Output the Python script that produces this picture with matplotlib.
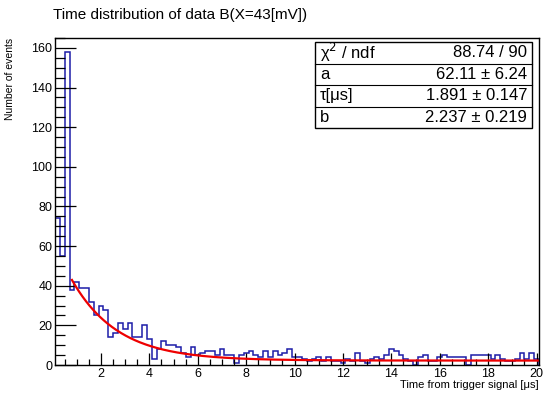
import numpy as np
import matplotlib
matplotlib.use("Agg")
import matplotlib.pyplot as plt
from matplotlib.patches import Rectangle
from matplotlib.ticker import MultipleLocator

plt.rcParams['font.family'] = ['Liberation Sans', 'DejaVu Sans']

# histogram: 100 bins of 0.2 us from 0.1 to 20.1 us
bin_lo = 0.1
bin_hi = 20.1
counts = [74, 55, 158, 38, 42, 39, 39, 32, 25, 30,
          28, 14, 16, 21, 18, 21, 14, 14, 20, 13,
          3, 8, 12, 10, 10, 9, 6, 4, 9, 5,
          6, 7, 7, 5, 8, 5, 5, 1, 5, 6,
          7, 5, 4, 7, 4, 7, 5, 6, 8, 4,
          4, 3, 2, 3, 4, 2, 4, 2, 2, 1,
          3, 2, 6, 2, 1, 3, 4, 3, 5, 8,
          7, 5, 3, 2, 0, 4, 5, 2, 2, 4,
          5, 4, 4, 4, 4, 0, 5, 5, 5, 5,
          3, 5, 3, 2, 2, 3, 6, 3, 6, 3]

# fit result: f(t) = a*exp(-t/tau) + b
fit_a = 62.11
fit_tau = 1.891
fit_b = 2.237
fit_range = (0.8, 20.1)

stat_names = ["\u03c7$^2$ / ndf", "a", "\u03c4[\u03bcs]", "b"]
stat_values = ["88.74 / 90", "62.11 \u00b1 6.24", "1.891 \u00b1 0.147", "2.237 \u00b1 0.219"]

title = "Time distribution of data B(X=43[mV])"
xlabel = "Time from trigger signal [\u03bcs]"
ylabel = "Number of events"

W, H = 548, 394
fig = plt.figure(figsize=(W / 100, H / 100), dpi=100)
L, R, T, B = 55, 539, 38, 365
ax = fig.add_axes([L / W, 1 - B / H, (R - L) / W, (B - T) / H])

edges = np.linspace(bin_lo, bin_hi, len(counts) + 1)
ax.stairs(counts, edges, color='#1c1ca8', lw=1.1, baseline=0)

t = np.linspace(fit_range[0], fit_range[1], 400)
ax.plot(t, fit_a * np.exp(-t / fit_tau) + fit_b, color='#ee0000', lw=1.6)

ax.set_xlim(bin_lo, bin_hi)
ax.set_ylim(0, 165)
ax.xaxis.set_major_locator(MultipleLocator(2))
ax.xaxis.set_minor_locator(MultipleLocator(0.5))
ax.yaxis.set_major_locator(MultipleLocator(20))
ax.yaxis.set_minor_locator(MultipleLocator(5))
ax.set_xticks([2, 4, 6, 8, 10, 12, 14, 16, 18, 20])
ax.tick_params(which='both', direction='in', top=False, right=False, labelsize=9, pad=2)
ax.tick_params(which='major', axis='x', length=9, width=0.9)
ax.tick_params(which='minor', axis='x', length=4.5, width=0.9)
ax.tick_params(which='major', axis='y', length=15, width=0.9)
ax.tick_params(which='minor', axis='y', length=7, width=0.9)
for s in ax.spines.values():
    s.set_linewidth(1.0)

fig.text(53 / W, 1 - 15 / H, title, fontsize=11, ha='left', va='center')
fig.text(539 / W, 1 - 380.5 / H, xlabel, fontsize=8, ha='right', va='top')
fig.text(10 / W, 1 - 38 / H, ylabel, fontsize=7.5, ha='center', va='top', rotation=90)

# stats box
bx0, bx1, by0, by1 = 315, 532, 42, 128
fig.patches.append(Rectangle((bx0 / W, 1 - by1 / H), (bx1 - bx0) / W, (by1 - by0) / H,
                             transform=fig.transFigure, facecolor='white',
                             edgecolor='black', lw=1.0, zorder=5))
rh = (by1 - by0) / len(stat_names)
for i, (n, v) in enumerate(zip(stat_names, stat_values)):
    yc = by0 + rh * (i + 0.5)
    fig.text((bx0 + 5) / W, 1 - yc / H, n, fontsize=12, ha='left', va='center', zorder=6)
    fig.text((bx1 - 5) / W, 1 - yc / H, v, fontsize=12, ha='right', va='center', zorder=6)
    if i > 0:
        yl = by0 + rh * i
        fig.add_artist(plt.Line2D([bx0 / W, bx1 / W], [1 - yl / H, 1 - yl / H],
                                  transform=fig.transFigure, color='black', lw=0.8, zorder=6))

fig.savefig("out.png", dpi=100)
